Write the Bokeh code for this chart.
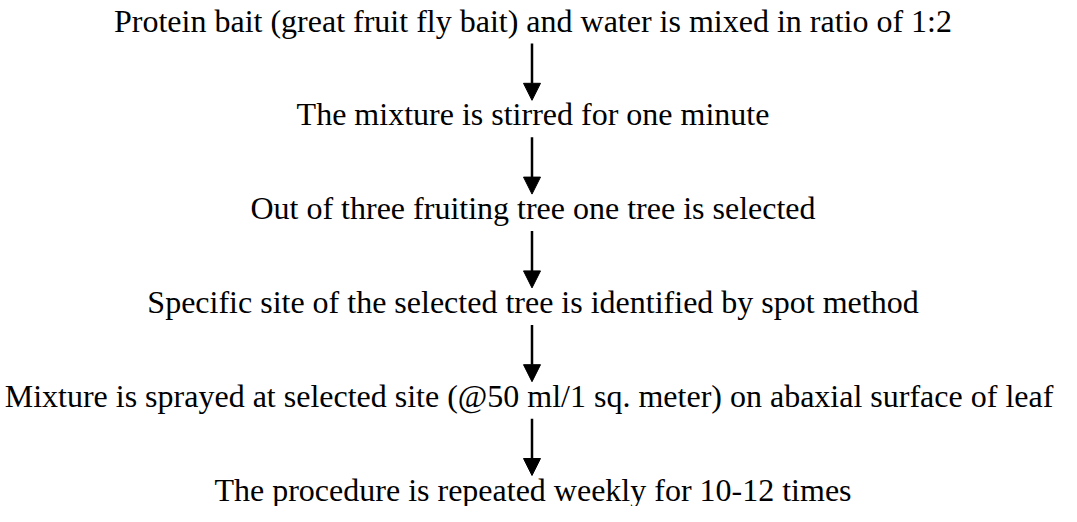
from bokeh.plotting import figure
from bokeh.models import ColumnDataSource, Range1d, Arrow, NormalHead
from bokeh.core.properties import value
from bokeh.embed import file_html
from bokeh.resources import INLINE

# Flowchart steps (top to bottom)
steps = [
    "Protein bait (great fruit fly bait) and water is mixed in ratio of 1:2",
    "The mixture is stirred for one minute",
    "Out of three fruiting tree one tree is selected",
    "Specific site of the selected tree is identified by spot method",
    "Mixture is sprayed at selected site (@50 ml/1 sq. meter) on abaxial surface of  leaf",
    "The procedure is repeated weekly for 10-12 times",
]
step_index = list(range(len(steps)))

W, H = 1061, 506
top = 29.0          # first baseline, pixels from top of figure
gap = 93.8          # pixels between consecutive baselines
p = figure(width=W, height=H, output_backend="svg", toolbar_location=None,
           min_border=0, x_range=Range1d(0, W),
           y_range=Range1d((H - top) / gap, -top / gap))
p.axis.visible = False
p.grid.visible = False
p.outline_line_color = None
p.background_fill_color = "white"
p.border_fill_color = "white"

cx = 532.5
src = ColumnDataSource(dict(x=[cx] * len(steps), y=step_index, text=steps))
p.text(x="x", y="y", text="text", source=src, y_offset=-9,
       text_font=value("'Liberation Serif', 'Times New Roman', serif"),
       text_font_size="32px",
       text_align="center", text_baseline="alphabetic", text_color="black")

# Arrows between consecutive steps
a_src = ColumnDataSource(dict(
    x0=[cx - 1] * (len(steps) - 1),
    y0=[i + 14 / gap for i in step_index[:-1]],
    x1=[cx - 1] * (len(steps) - 1),
    y1=[i + 1 - 23 / gap for i in step_index[:-1]],
))
p.add_layout(Arrow(end=NormalHead(size=17, fill_color="black", line_color="black", line_width=1),
                   x_start="x0", y_start="y0", x_end="x1", y_end="y1",
                   source=a_src, line_color="black", line_width=2.5))

open("out.html", "w").write(file_html(p, INLINE))
